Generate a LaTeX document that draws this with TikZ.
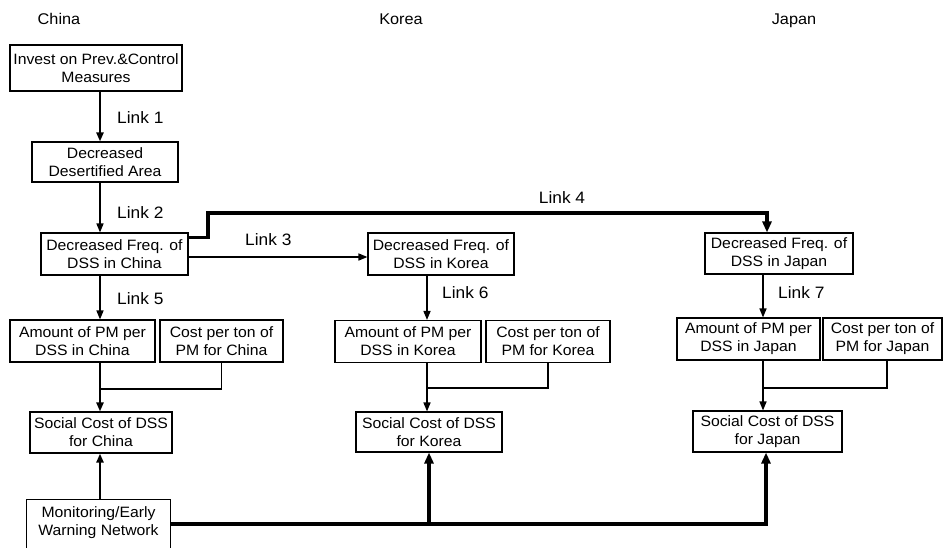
\documentclass[tikz,border=0pt]{standalone}
\usepackage{fontspec}
\setmainfont{Liberation Sans}[FakeStretch=1.05]
\usetikzlibrary{arrows.meta}
\begin{document}
\begin{tikzpicture}[x=1pt,y=-1pt,
  box/.style={draw, line width=1.1pt, align=center, inner sep=0pt, font=\fontsize{15}{18}\selectfont},
  lbl/.style={font=\fontsize{16.5}{18}\selectfont, inner sep=0pt},
  cty/.style={font=\fontsize{15.5}{18}\selectfont, inner sep=0pt, anchor=base},
  arr/.style={-{Triangle[length=9pt,width=7pt]}, line width=1.5pt},
  marr/.style={-{Triangle[length=9pt,width=7pt]}, line width=2.2pt},
  tarr/.style={-{Triangle[length=11pt,width=9pt]}, line width=3.5pt},
  jn/.style={line width=1.2pt}]
\useasboundingbox (0,0) rectangle (944,547);
% column x positions of arrows
\coordinate (cx) at (100,0);
\coordinate (kx) at (427,0);
\coordinate (ktx) at (429,0);
\coordinate (jx) at (763,0);
\coordinate (jtx) at (766,0);
\coordinate (l4x) at (767,0);
% country labels
\node[cty] (china) at (59,24) {China};
\node[cty] (korea) at (401,24) {Korea};
\node[cty] (japan) at (794,24) {Japan};
% China column
\node[box, minimum width=172pt, minimum height=46pt] (inv) at (96,68) {Invest on Prev.\&Control\\Measures};
\node[box, minimum width=146pt, minimum height=40pt] (des) at (105,162) {Decreased\\Desertified Area};
\node[box, minimum width=147pt, minimum height=42pt] (cfreq) at (114.5,254) {Decreased Freq. of\\DSS in China};
\node[box, minimum width=145pt, minimum height=42pt] (camt) at (82.5,341) {Amount of PM per\\DSS in China};
\node[box, minimum width=123pt, minimum height=42pt] (ccost) at (221.5,341) {Cost per ton of\\PM for China};
\node[box, minimum width=142pt, minimum height=41pt] (csoc) at (101,432.5) {Social Cost of DSS\\for China};
\node[box, draw=none, minimum width=143pt, minimum height=45pt] (mon) at (98.5,522.5) {Monitoring/Early\\Warning Network};
\draw[line width=1.1pt] ([yshift=-10pt]mon.south west) -- (mon.north west) -- (mon.north east) -- ([yshift=-10pt]mon.south east);
% Korea column
\node[box, minimum width=146pt, minimum height=42pt] (kfreq) at (441,254) {Decreased Freq. of\\DSS in Korea};
\node[box, minimum width=146pt, minimum height=42pt] (kamt) at (408,341.5) {Amount of PM per\\DSS in Korea};
\node[box, minimum width=124pt, minimum height=42pt] (kcost) at (548,341.5) {Cost per ton of\\PM for Korea};
\node[box, minimum width=146pt, minimum height=40pt] (ksoc) at (429,432) {Social Cost of DSS\\for Korea};
% Japan column
\node[box, minimum width=148pt, minimum height=41pt] (jfreq) at (779,253.5) {Decreased Freq. of\\DSS in Japan};
\node[box, minimum width=143pt, minimum height=42pt] (jamt) at (748.5,339) {Amount of PM per\\DSS in Japan};
\node[box, minimum width=119pt, minimum height=42pt] (jcost) at (882.5,339) {Cost per ton of\\PM for Japan};
\node[box, minimum width=149pt, minimum height=41pt] (jsoc) at (767.5,431.5) {Social Cost of DSS\\for Japan};
% link labels
\node[lbl, anchor=west] (l1) at (117,118) {Link 1};
\node[lbl, anchor=west] (l2) at (117,213) {Link 2};
\node[lbl, anchor=west] (l3) at (245,240) {Link 3};
\node[lbl] (l4) at (562,198) {Link 4};
\node[lbl, anchor=west] (l5) at (117,299) {Link 5};
\node[lbl, anchor=west] (l6) at (442,293) {Link 6};
\node[lbl, anchor=west] (l7) at (778,293) {Link 7};
% China links
\draw[marr] (inv.south -| cx) -- (des.north -| cx);
\draw[arr] (des.south -| cx) -- (cfreq.north -| cx);
\draw[arr] (cfreq.south -| cx) -- (camt.north -| cx);
\draw[marr] (camt.south -| cx) -- (csoc.north -| cx);
\coordinate (cj) at (100,389);
\draw[jn] (ccost.south) |- (cj);
\draw[marr] (mon.north -| cx) -- (csoc.south -| cx);
% Link 3
\draw[arr] ([yshift=-3pt]cfreq.east) -- ([yshift=-3pt]cfreq.east -| kfreq.west);
% Link 4
\coordinate (l4bend) at (208,213);
\draw[tarr] ([yshift=-5pt]cfreq.north east) -| (l4bend) -| (jfreq.north -| l4x);
% Korea links
\draw[arr] (kfreq.south -| kx) -- (kamt.north -| kx);
\draw[arr] (kamt.south -| kx) -- (ksoc.north -| kx);
\coordinate (kj) at (427,388);
\draw[jn] (kcost.south) |- (kj);
% Japan links
\draw[arr] (jfreq.south -| jx) -- (jamt.north -| jx);
\draw[arr] (jamt.south -| jx) -- (jsoc.north -| jx);
\coordinate (jcx) at (887,0);
\coordinate (jj) at (763,388);
\draw[jn] (jcost.south -| jcx) |- (jj);
% bottom network
\coordinate (bl) at ([yshift=-1.5pt]mon.east);
\draw[tarr] (bl) -| (jsoc.south -| jtx);
\draw[tarr] (bl -| ktx) -- (ksoc.south -| ktx);
\end{tikzpicture}
\end{document}
